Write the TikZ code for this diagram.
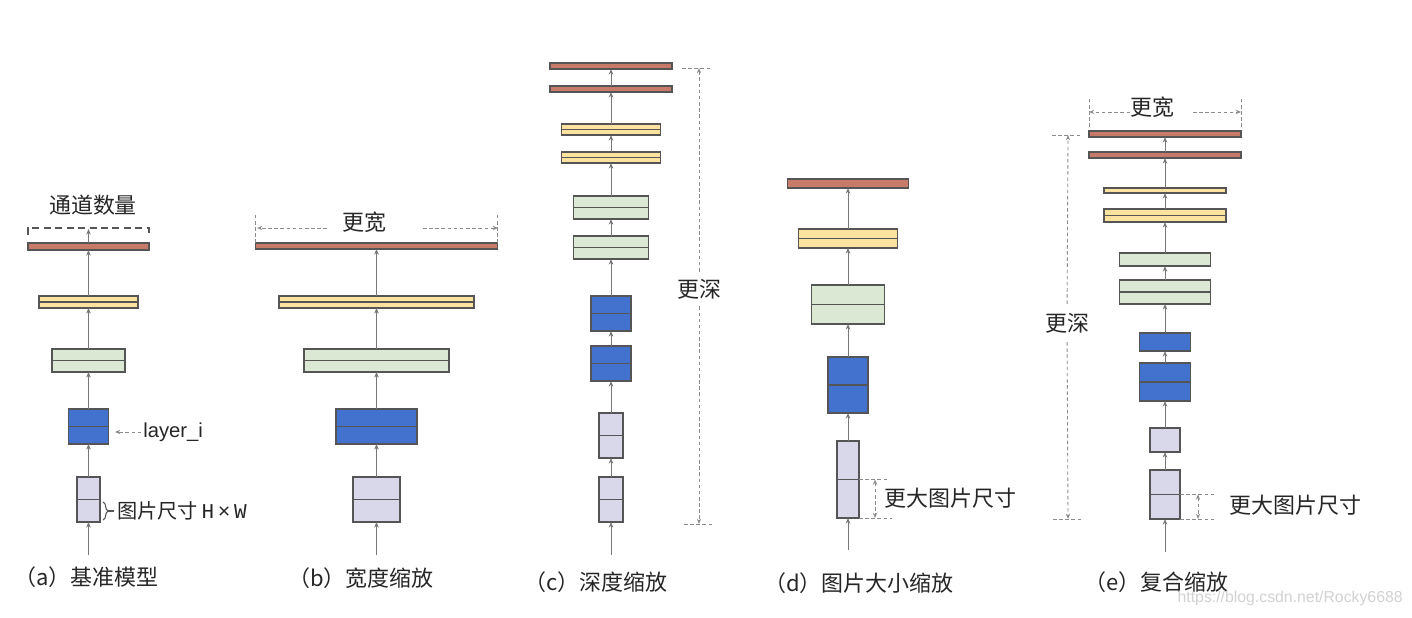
\documentclass[tikz,border=0pt]{standalone}
\usepackage{fontspec}
\setmainfont{Liberation Sans}
\newfontfamily\cjk{Noto Sans CJK SC}
\newfontfamily\hwfont{Liberation Mono}
\usetikzlibrary{arrows.meta, positioning, calc, decorations.pathreplacing}

\newlength\pxl
\setlength\pxl{0.02cm}
\newcommand\lblsize{\fontsize{12.5pt}{14pt}\selectfont}

\definecolor{redbar}{RGB}{200,122,106}
\definecolor{yelbar}{RGB}{251,226,158}
\definecolor{grnbar}{RGB}{219,232,211}
\definecolor{blubar}{RGB}{66,113,206}
\definecolor{lavbar}{RGB}{217,215,234}
\definecolor{edgegray}{RGB}{85,85,85}
\definecolor{flowgray}{RGB}{120,120,120}
\definecolor{dimgray}{RGB}{140,140,140}

\tikzset{
    layer/.style 2 args={
        draw=edgegray,
        line width=0.7pt,
        inner sep=0pt,
        outer sep=0pt,
        minimum width=#1*\pxl,
        minimum height=#2*\pxl
    },
    split/.style={
        path picture={\draw[edgegray, line width=1.1pt]
            (path picture bounding box.west) -- (path picture bounding box.east);}
    },
    redlay/.style={fill=redbar},
    yellay/.style={fill=yelbar},
    grnlay/.style={fill=grnbar},
    blulay/.style={fill=blubar},
    lavlay/.style={fill=lavbar},
    flow/.style={-{Stealth[length=3.2pt, width=2.6pt]}, draw=flowgray, line width=0.55pt},
    dim/.style={draw=dimgray, line width=0.5pt, dash pattern=on 2pt off 1.5pt},
    dimarrow/.style={dim, -{Stealth[length=3pt, width=2.4pt]}},
    dimboth/.style={dim, {Stealth[length=3pt, width=2.4pt]}-{Stealth[length=3pt, width=2.4pt]}},
    bracket/.style={draw=edgegray, line width=0.8pt, dash pattern=on 4pt off 2.5pt},
    brace/.style={draw=edgegray, line width=0.6pt, decorate, decoration={brace, amplitude=3pt}},
    lbl/.style={font=\cjk\lblsize, inner sep=0pt, text=black!85},
    subcap/.style={lbl, anchor=east},
    wmark/.style={anchor=east, inner sep=0pt, text=gray!35, font=\fontsize{9pt}{10pt}\selectfont}
}

\begin{document}
\begin{tikzpicture}[x=0.02cm, y=-0.02cm]
\useasboundingbox[fill=white] (0,0) rectangle (1412,618);

% (a) baseline
\node[lavlay, layer={23}{45}, split] (a1) at (88.5,499.5) {};
\node[blulay, layer={40}{35}, split] (a2) at (88.5,426.5) {};
\node[grnlay, layer={73}{23}, split] (a3) at (88.5,360.5) {};
\node[yellay, layer={99}{12}, split] (a4) at (88.5,302) {};
\node[redlay, layer={121}{7}] (a5) at (88.5,246.5) {};
\coordinate (a0) at (88.5,555);
\foreach \j [count=\i from 0] in {1,...,5}
    \draw[flow] (a\i) -- (a\j);

\coordinate (chtop) at (88.5,229);
\draw[flow] (a5) -- (chtop);
\draw[bracket] ($(a5.north west)+(0,-8)$) -- ($(a5.north west)+(0,-15)$)
    -- ($(a5.north east)+(0,-15)$) -- ($(a5.north east)+(0,-8)$);
\node[lbl] (chn) at (93,205) {通道数量};

\node[anchor=west, inner sep=0pt, text=black!85, font=\fontsize{11.5pt}{13pt}\selectfont] (lyr) at (143,432) {layer\_i};
\coordinate (lyrtip) at (115,432);
\draw[dimarrow] ([xshift=-1pt]lyr.west) -- (lyrtip);

\draw[brace] ($(a1.east)+(3,2.5)$) -- ($(a1.south east)+(3,-2)$);
\draw[edgegray, line width=0.6pt] (108,511) -- (114,511);
\node[anchor=west, inner sep=0pt, text=black!85] (hw) at (117,511)
    {{\cjk\fontsize{11.5pt}{13pt}\selectfont 图片尺寸}\hwfont\fontsize{12pt}{13pt}\selectfont\,H\,×\,W};
\node[subcap] (capa) at (159,577) {（a）基准模型};

% (b) wider
\node[lavlay, layer={47}{45}, split] (b1) at (376.5,499.5) {};
\node[blulay, layer={81}{35}, split] (b2) at (376.5,426.5) {};
\node[grnlay, layer={145}{23}, split] (b3) at (376.5,360.5) {};
\node[yellay, layer={195}{12}, split] (b4) at (376.5,302) {};
\node[redlay, layer={242}{6}] (b5) at (376.5,246) {};
\coordinate (b0) at (376.5,555);
\foreach \j [count=\i from 0] in {1,...,5}
    \draw[flow] (b\i) -- (b\j);

\draw[dim] (b5.north west) -- ++(0,-30);
\draw[dim] (b5.north east) -- ++(0,-30);
\node[lbl] (wdb) at (364,222) {更宽};
\coordinate (wbl) at (257,228);
\coordinate (wbr) at (498,228);
\draw[dimarrow] (327,228) -- (wbl);
\draw[dimarrow] (423,228) -- (wbr);
\node[subcap] (capb) at (434,578) {（b）宽度缩放};

% (c) deeper
\node[lavlay, layer={24}{45}, split] (c1) at (611,499.5) {};
\node[lavlay, layer={24}{45}, split] (c2) at (611,435.5) {};
\node[blulay, layer={40}{35}, split] (c3) at (611,363.5) {};
\node[blulay, layer={40}{35}, split] (c4) at (611,313.5) {};
\node[grnlay, layer={75}{23}, split] (c5) at (611,247.5) {};
\node[grnlay, layer={75}{23}, split] (c6) at (611,207.5) {};
\node[yellay, layer={99}{11}, split] (c7) at (611,157.5) {};
\node[yellay, layer={99}{11}, split] (c8) at (611,129.5) {};
\node[redlay, layer={122}{6}] (c9) at (611,89) {};
\node[redlay, layer={122}{6}] (c10) at (611,66) {};
\coordinate (c0) at (611,555);
\foreach \j [count=\i from 0] in {1,...,10}
    \draw[flow] (c\i) -- (c\j);

\coordinate (dct) at (699,68);
\coordinate (dcb) at (699,524);
\draw[dim] ($(dct)+(-17,0)$) -- ++(30,0);
\draw[dim] ($(dcb)+(-15,0)$) -- ++(30,0);
\node[lbl, inner sep=4pt] (dpc) at (699,289) {更深};
\draw[dimarrow] (dpc) -- (dct);
\draw[dimarrow] (dpc) -- (dcb);
\node[subcap] (capc) at (668,582) {（c）深度缩放};

% (d) larger image
\node[lavlay, layer={22}{77}, split] (d1) at (848,479.5) {};
\node[blulay, layer={40}{56}, split] (d2) at (848,385) {};
\node[grnlay, layer={73}{39}, split] (d3) at (848,304.5) {};
\node[yellay, layer={99}{19}, split] (d4) at (848,238.5) {};
\node[redlay, layer={121}{9}] (d5) at (848,183.5) {};
\coordinate (d0) at (848,550);
\foreach \j [count=\i from 0] in {1,...,5}
    \draw[flow] (d\i) -- (d\j);

\draw[dim] (d1.east) -- ++(29,0);
\draw[dim] (d1.south east) -- ++(33,0);
\draw[dimboth] ($(d1.east)+(16,0)$) -- ($(d1.south east)+(16,0)$);
\node[lbl, anchor=west] (imgd) at (884,498) {更大图片尺寸};
\node[subcap] (capd) at (954,583) {（d）图片大小缩放};

% (e) compound
\node[lavlay, layer={30}{49}, split] (e1) at (1165,494.5) {};
\node[lavlay, layer={30}{24}] (e2) at (1165,440) {};
\node[blulay, layer={51}{38}, split] (e3) at (1165,382) {};
\node[blulay, layer={51}{18}] (e4) at (1165,342) {};
\node[grnlay, layer={91}{24}, split] (e5) at (1165,292) {};
\node[grnlay, layer={91}{13}] (e6) at (1165,259.5) {};
\node[yellay, layer={122}{13}, split] (e7) at (1165,215.5) {};
\node[yellay, layer={122}{5}] (e8) at (1165,190.5) {};
\node[redlay, layer={152}{6}] (e9) at (1165,155) {};
\node[redlay, layer={152}{6}] (e10) at (1165,134) {};
\coordinate (e0) at (1165,552);
\foreach \j [count=\i from 0] in {1,...,10}
    \draw[flow] (e\i) -- (e\j);

\draw[dim] ($(e10.north west)+(0,-4)$) -- ++(0,-29);
\draw[dim] ($(e10.north east)+(0,-4)$) -- ++(0,-29);
\node[lbl] (wde) at (1152,107) {更宽};
\coordinate (wel) at (1089,112);
\coordinate (wer) at (1241,112);
\draw[dimarrow] (1130,112) -- (wel);
\draw[dimarrow] (1193,112) -- (wer);

\coordinate (det) at (1068,135);
\coordinate (deb) at (1068,519);
\draw[dim] ($(det)+(-16,0)$) -- ++(30,0);
\draw[dim] ($(deb)+(-15,0)$) -- ++(30,0);
\node[lbl, inner sep=5pt] (dpe) at (1067,323) {更深};
\draw[dimarrow] (dpe) -- (det);
\draw[dimarrow] (dpe) -- (deb);

\draw[dim] (e1.east) -- ++(35,0);
\draw[dim] (e1.south east) -- ++(35,0);
\draw[dimboth] ($(e1.east)+(18,0)$) -- ($(e1.south east)+(18,0)$);
\node[lbl, anchor=west] (imge) at (1229,505) {更大图片尺寸};
\node[subcap] (cape) at (1229,582) {（e）复合缩放};

\node[wmark] (wm) at (1403,598) {https://blog.csdn.net/Rocky6688};
\end{tikzpicture}
\end{document}
